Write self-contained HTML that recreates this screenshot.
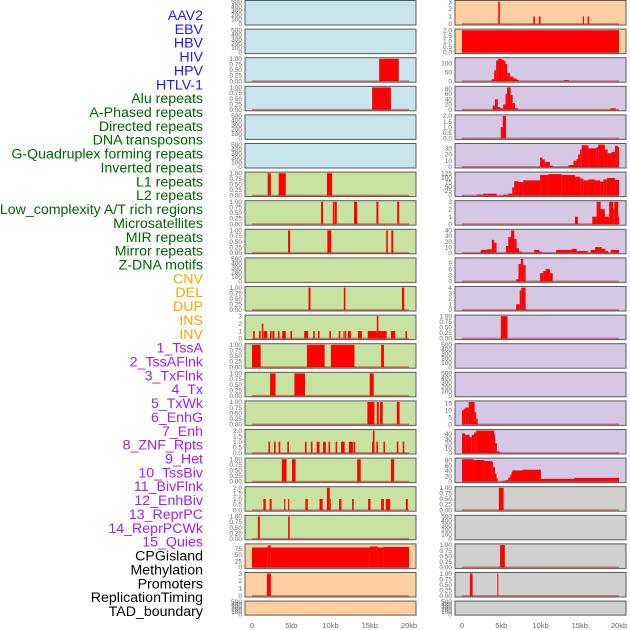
<!DOCTYPE html>
<html><head><meta charset="utf-8"><style>
html,body{margin:0;padding:0;background:#fff;}
svg{display:block;font-family:"Liberation Sans",sans-serif;}
</style></head><body>
<svg id="chart" width="630" height="630"></svg>
<script>
// ---- data ----
const trackLabels = ["AAV2","EBV","HBV","HIV","HPV","HTLV-1","Alu repeats","A-Phased repeats","Directed repeats","DNA transposons","G-Quadruplex forming repeats","Inverted repeats","L1 repeats","L2 repeats","Low_complexity A/T rich regions","Microsatellites","MIR repeats","Mirror repeats","Z-DNA motifs","CNV","DEL","DUP","INS","INV","1_TssA","2_TssAFlnk","3_TxFlnk","4_Tx","5_TxWk","6_EnhG","7_Enh","8_ZNF_Rpts","9_Het","10_TssBiv","11_BivFlnk","12_EnhBiv","13_ReprPC","14_ReprPCWk","15_Quies","CPGisland","Methylation","Promoters","ReplicationTiming","TAD_boundary"];
const labelGroups = [0,0,0,0,0,0,1,1,1,1,1,1,1,1,1,1,1,1,1,2,2,2,2,2,3,3,3,3,3,3,3,3,3,3,3,3,3,3,3,4,4,4,4,4];
const xTicks = [0,5,10,15,20];
const xTickLabels = ["0","5kb","10kb","15kb","20kb"];

const T500 = ["0","100","200","300","400","500"];
const T1 = ["0.00","0.25","0.50","0.75","1.00"];
const T2 = ["0.0","0.5","1.0","1.5","2.0"];
const T3 = ["0","1","2","3"];

const leftBg = ["b","b","b","b","b","b","g","g","g","g","g","g","g","g","g","g","g","g","g","o","o","o"];
const rightBg = ["o","o","p","p","p","p","p","p","p","p","p","p","p","p","p","p","p","g2","g2","g2","g2","g2"];

const leftTicks = [T500,T500,T1,T1,T500,T500,T1,T1,T1,T500,T1,T3,T1,T1,T1,T2,T1,T2,T1,["0","25","50","75"],T3,T500];
const leftMax = [500,500,1,1,500,500,1,1,1,500,1,3,1,1,1,2,1,2,1,90,3,500];
const rightTicks = [T3,T2,["0","50","100"],["0","20","40","60","80"],T2,["0","10","20","30"],["0","25","50","75","100","125"],T3,["0","10","20","30","40"],["0","3","6","9"],["0","1","2","3","4"],T1,T500,T500,["0","5","10","15"],["0","10","20","30","40"],["0","20","40","60","80"],T1,T500,T1,T1,T500];
const rightMax = [3,2,125,85,2,36,125,3,40,11,4,1,500,500,16,47,85,1,500,1,1,500];

// segments: [start_kb, end_kb, value]
const L2 = [[16.2,18.7,1]];
const L3 = [[15.3,17.7,1]];
const L6 = [[2.0,2.4,1],[3.4,4.3,1],[9.55,10.2,1]];
const L7 = [[8.8,9.05,1],[10.3,10.5,1],[10.55,10.8,1],[13.0,13.4,1],[15.85,16.1,1],[18.5,18.75,1]];
const L8 = [[4.6,4.85,1],[9.6,10.1,1],[17.1,17.3,1],[17.75,18.0,1]];
const L10 = [[7.2,7.45,1],[11.7,11.9,1],[19.1,19.4,1]];
const L11 = [[0.15,0.35,1],[0.9,1.1,1],[1.25,1.45,2],[1.5,1.95,1],[2.3,2.5,1],[2.6,2.85,1],[3.3,3.5,1],[3.85,4.3,1],[4.9,5.1,1],[6.65,7.15,1],[7.8,8.0,1],[8.4,8.6,1],[9.85,10.05,1],[11.05,11.25,1],[11.65,11.8,1],[11.85,12.0,1],[12.2,12.6,1],[13.5,14.0,1],[14.75,15.9,1],[15.9,16.1,3],[16.1,17.15,1],[17.7,18.25,1],[19.55,19.75,1]];
const L12 = [[0,1.1,1],[7.0,9.25,1],[10.05,13.05,1],[16.45,16.8,1]];
const L13 = [[2.3,3.0,1],[5.4,6.75,1],[15.0,15.5,1]];
const L14 = [[14.7,15.6,1],[15.9,16.15,1],[16.3,16.65,1],[18.45,18.8,1]];
const L15 = [[2.1,2.3,1],[2.8,3.0,1],[3.4,3.6,1],[4.5,4.7,1],[6.75,6.95,1],[7.5,7.7,1],[8.25,8.6,1],[9.05,9.4,1],[9.75,9.95,1],[10.65,10.85,1],[11.35,11.8,1],[12.35,12.85,1],[12.95,13.15,1],[15.3,15.4,1],[15.4,15.6,2],[15.85,16.05,1],[16.75,16.95,1],[18.45,18.65,1],[19.2,19.4,1]];
const L16 = [[3.8,4.4,1],[5.1,5.55,1],[13.4,13.85,1],[17.7,18.1,1]];
const L17 = [[1.45,1.75,1],[2.25,2.5,1],[4.1,4.25,1],[4.6,4.75,1],[6.8,7.1,1],[8.6,9.0,1],[9.55,9.9,2],[9.9,10.0,1],[11.1,11.4,1],[12.75,12.95,1],[14.8,15.1,1],[16.45,16.8,1],[17.05,17.6,1],[19.6,19.85,1]];
const L18 = [[0.75,1.0,1],[4.6,4.8,1]];
const L19 = [[0,2.0,80],[2.0,2.4,88],[2.4,15.0,80],[15.0,16.0,84],[16.0,16.7,80],[16.7,20,82]];
const L20 = [[1.9,2.4,3]];
const leftData = [[],[],L2,L3,[],[],L6,L7,L8,[],L10,L11,L12,L13,L14,L15,L16,L17,L18,L19,L20,[]];

const R0 = [[4.62,4.82,3],[9.1,9.3,1],[9.8,10.0,1],[15.4,15.55,1],[16.0,16.2,1]];
const R1 = [[0,20,2]];
const R2 = [[3.8,4.1,10],[4.1,4.35,60],[4.35,4.6,115],[4.6,5.05,125],[5.05,5.3,120],[5.3,5.55,112],[5.55,5.75,95],[5.75,6.1,45],[6.1,6.55,25],[6.55,6.95,15],[6.95,7.25,7],[13.0,13.6,5]];
const R3 = [[3.9,4.2,15],[4.2,4.55,40],[4.55,4.85,10],[4.85,5.25,5],[5.25,5.55,20],[5.55,5.75,60],[5.75,6.2,85],[6.2,6.45,55],[6.45,6.75,25],[6.75,7.15,5],[18.9,19.6,5]];
const R4 = [[4.95,5.2,1],[5.2,5.6,2]];
const R5 = [[9.95,10.25,15],[10.25,10.55,12],[10.55,11.2,8],[11.2,11.55,2],[13.55,14.2,3],[14.2,14.6,10],[14.6,14.8,13],[14.8,15.05,20],[15.05,15.25,28],[15.25,16.1,35],[16.1,17.15,30],[17.15,17.35,32],[17.35,18.2,36],[18.2,18.55,28],[18.55,19.05,22],[19.05,19.5,24],[19.5,19.85,34],[19.85,20.0,32]];
const R6 = [[1.85,2.7,5],[2.7,4.4,10],[5.25,5.9,5],[5.9,6.4,10],[6.4,6.65,45],[6.65,7.15,80],[7.15,7.8,75],[7.8,9.95,85],[9.95,11.0,115],[11.0,12.7,120],[12.7,14.4,115],[14.4,15.05,105],[15.05,15.45,95],[15.45,16.1,85],[16.1,16.95,90],[16.95,17.6,85],[17.6,18.0,78],[18.0,18.45,90],[18.45,19.5,98],[19.5,20.0,88]];
const R7 = [[14.4,14.75,1],[16.6,17.15,1],[17.15,17.65,3],[17.65,18.2,2],[18.2,18.75,1],[18.75,19.25,3],[19.25,19.4,2],[19.4,19.9,3],[19.9,20.0,1]];
const R8 = [[2.4,3.15,5],[3.15,3.8,6],[3.8,4.1,23],[4.1,4.4,18],[5.6,5.9,12],[5.9,6.25,28],[6.25,6.65,40],[6.65,6.95,25],[6.95,7.25,8],[7.25,7.6,2],[9.2,9.85,5],[9.85,10.15,2],[12.0,14.0,5],[14.0,14.6,7],[14.6,16.0,3],[16.4,16.95,5],[16.95,17.8,10],[17.8,18.25,7],[18.25,18.6,3],[18.95,20.0,5]];
const R9 = [[6.9,7.2,1],[7.2,7.5,8.5],[7.5,7.8,11],[7.8,8.1,8],[9.95,10.35,4],[10.35,10.65,5],[10.65,11.2,6],[11.2,11.55,4]];
const R10 = [[6.9,7.35,1],[7.35,7.55,3.5],[7.55,8.1,4]];
const R11 = [[4.95,5.8,1]];
const R14 = [[0,0.2,10],[0.2,0.4,11],[0.4,0.85,12],[0.85,1.6,16],[1.6,1.8,9],[1.8,2.0,4]];
const R15 = [[0,0.4,41],[0.4,0.95,38],[0.95,1.25,33],[1.25,1.55,38],[1.55,1.8,43],[1.8,4.1,47],[4.1,4.2,40],[4.2,4.45,20],[4.45,4.85,3]];
const R16 = [[0,1.45,85],[1.45,2.85,82],[2.85,3.8,78],[3.8,3.95,75],[3.95,4.2,55],[4.2,4.4,30],[4.4,4.55,12],[5.2,5.55,3],[5.55,5.9,5],[5.9,6.15,15],[6.15,6.3,25],[6.3,6.4,35],[6.4,7.7,42],[7.7,10.05,45],[10.05,14.3,10],[14.3,20.0,14]];
const R17 = [[4.7,5.3,1]];
const R19 = [[4.85,5.45,1]];
const R20 = [[1.0,1.35,1],[4.5,4.62,1]];
const rightData = [R0,R1,R2,R3,R4,R5,R6,R7,R8,R9,R10,R11,[],[],R14,R15,R16,R17,[],R19,R20,[]];

// ---- drawing ----
const NS = "http://www.w3.org/2000/svg";
const svg = document.getElementById("chart");
const bgColors = {b:"#c8e4ec",g:"#c8e2a2",o:"#fed0a0",p:"#d6c8e4",g2:"#d0d0d0"};
const groupColors = ["#1a1aff","#006400","#ffa500","#a020f0","#000000"];
function mk(tag, attrs){const e=document.createElementNS(NS,tag);for(const k in attrs)e.setAttribute(k,attrs[k]);svg.appendChild(e);return e;}

// labels
trackLabels.forEach((t,i)=>{
  const e=mk("text",{x:203,y:15+13.86*i+5,"text-anchor":"end","font-size":"14.2",fill:groupColors[labelGroups[i]]});
  e.textContent=t;
  
  
});

function rowTop(k){return 0.5+28.6*k;}
function rowH(k){return k===21?14:24.5;}

function drawCol(side, x0, bgs, ticks, maxes, data){
  const W=171, dx0 = x0+7, kbW = 7.85;
  const xs = kb => dx0 + kb*kbW;
  for(let k=0;k<22;k++){
    const top=rowTop(k), h=rowH(k), M=maxes[k];
    const ys = v => top + h*(1.05*M - v)/(1.1*M);
    const bg=mk("rect",{x:x0,y:top,width:W,height:h,fill:bgColors[bgs[k]],stroke:"#5a5a5a","stroke-width":1});
    
    
    data[k].forEach(s=>{
      const y1=ys(s[2]), y0=ys(0);
      const r=mk("rect",{x:xs(s[0]),y:y1,width:Math.max(1,xs(s[1])-xs(s[0])),height:Math.max(0,y0-y1),fill:"#ff0000"});
      
      
    });
    if(data[k].length){
      const b=mk("rect",{x:xs(0),y:ys(0)-0.8,width:xs(20)-xs(0),height:1.6,fill:"rgba(190,0,0,0.45)"});
      
      
    }
    ticks[k].forEach(t=>{
      const v=parseFloat(t);
      const e=mk("text",{x:x0-3,y:ys(v)+2.2,"text-anchor":"end","font-size":"6.5",fill:"#666"});
      e.textContent=t;
      
      
    });
  }
  xTicks.forEach((v,i)=>{
    const e=mk("text",{x:xs(v),y:628,"text-anchor":"middle","font-size":"7.5",fill:"#666"});
    e.textContent=xTickLabels[i];
    
    
  });
}
drawCol("left",245,leftBg,leftTicks,leftMax,leftData);
drawCol("right",455,rightBg,rightTicks,rightMax,rightData);
</script>
</body></html>
